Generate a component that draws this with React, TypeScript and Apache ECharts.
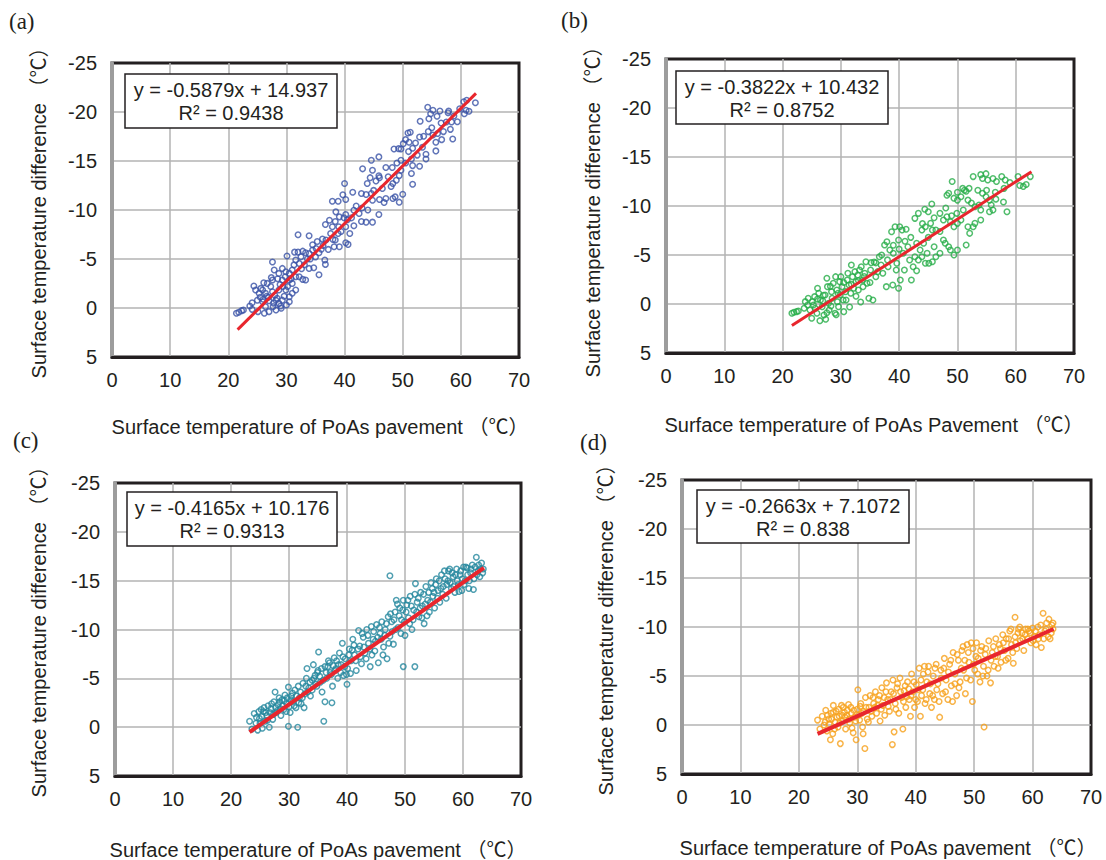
import React, { useEffect, useRef } from "react";
import * as echarts from "echarts";

const panelLabels = ["(a)", "(b)", "(c)", "(d)"];
const equations = ["y = -0.5879x + 14.937", "y = -0.3822x + 10.432", "y = -0.4165x + 10.176", "y = -0.2663x + 7.1072"];
const rSquared = ["R² = 0.9438", "R² = 0.8752", "R² = 0.9313", "R² = 0.838"];
const xNames = [
  "Surface temperature of PoAs pavement （℃）",
  "Surface temperature of PoAs Pavement （℃）",
  "Surface temperature of PoAs pavement （℃）",
  "Surface temperature of PoAs pavement （℃）",
];
const yName = "Surface temperature difference （℃）";
const pointColors = ["#3a52a6", "#26ad47", "#24879d", "#f6a01a"];

const trendA = [[21.6, 2.2], [62.6, -21.9]];
const trendB = [[21.6, 2.2], [62.7, -13.5]];
const trendC = [[23.2, 0.5], [63.6, -16.3]];
const trendD = [[23.2, 0.9], [63.6, -9.8]];

const pointsA = [
  [21.4, 0.54], [21.8, 0.44], [22.3, 0.27], [22.6, 0.2], [23.7, -0.2], [24.1, 0.14], [25.1, 0.37], [24.1, -0.54], [25.0, -0.8], [25.9, -0.64],
  [27.0, -0.75], [28.2, -0.8], [26.4, -0.14], [27.7, -0.14], [28.7, -0.47], [26.2, 0.54], [27.0, 0.37], [28.2, 0.2], [29.1, 0.03], [30.0, -0.3],
  [30.5, -0.64], [24.4, -2.24], [24.7, -1.83], [25.9, -1.83], [25.3, -1.5], [26.4, -1.5], [27.6, -1.66], [28.7, -1.83], [29.9, -1.83], [31.0, -1.5],
  [31.6, -1.83], [30.5, -1.15], [29.3, -0.8], [26.1, -2.58], [26.7, -2.51], [27.6, -2.85], [28.5, -2.99], [29.3, -2.85], [29.8, -3.19], [30.5, -2.85],
  [31.0, -2.51], [31.6, -3.19], [32.2, -3.19], [32.8, -2.92], [33.3, -2.85], [27.9, -3.87], [27.6, -4.69], [28.7, -3.53], [29.3, -4.04], [29.9, -3.7],
  [30.5, -3.53], [31.0, -3.87], [30.1, -5.3], [31.4, -5.7], [32.0, -5.7], [32.8, -5.8], [33.3, -5.64], [33.9, -5.57], [32.5, -5.23], [31.6, -4.89],
  [32.2, -4.55], [33.1, -4.41], [33.9, -4.04], [34.7, -4.1], [35.6, -3.4], [36.6, -4.9], [36.7, -4.45], [32.0, -7.47], [33.9, -7.37], [34.5, -6.45],
  [35.3, -6.79], [34.5, -5.91], [35.1, -6.08], [35.6, -5.64], [36.2, -7.03], [36.8, -6.93], [36.3, -6.38], [37.2, -5.98], [38.2, -6.25], [39.1, -6.25],
  [38.4, -6.93], [40.2, -6.65], [40.6, -6.49], [38.9, -7.6], [40.9, -7.6], [37.9, -8.29], [39.0, -8.29], [40.2, -8.29], [41.6, -8.39], [36.7, -8.52],
  [37.4, -8.96], [38.4, -8.83], [39.1, -9.3], [39.9, -9.2], [40.2, -9.54], [38.5, -9.81], [41.6, -9.98], [42.5, -9.64], [42.9, -8.83], [43.7, -8.76],
  [44.8, -8.76], [45.9, -9.54], [37.9, -10.9], [38.9, -10.9], [40.2, -11.07], [39.7, -11.55], [41.4, -11.82], [42.9, -11.68], [43.7, -11.58], [44.6, -11.68],
  [40.0, -12.7], [43.9, -12.7], [44.8, -11.0], [46.0, -11.07], [46.8, -10.76], [47.1, -11.17], [48.3, -11.17], [48.7, -11.34], [49.4, -10.8], [50.0, -11.6],
  [44.4, -13.3], [45.4, -12.97], [46.0, -13.3], [45.9, -13.5], [44.8, -14.06], [43.1, -14.2], [44.6, -15.08], [45.9, -15.42], [47.1, -14.33], [48.2, -14.33],
  [48.9, -13.04], [48.3, -12.7], [49.4, -13.51], [49.7, -14.06], [49.7, -15.08], [48.5, -16.23], [49.3, -16.26], [49.7, -16.23], [50.1, -16.77], [51.1, -16.91],
  [50.5, -17.18], [50.9, -17.86], [51.3, -17.93], [51.7, -16.3], [51.0, -15.96], [52.2, -16.84], [51.7, -14.53], [52.9, -14.47], [51.5, -13.72], [51.7, -12.63],
  [52.9, -17.45], [53.6, -17.52], [54.4, -18.0], [55.2, -17.66], [54.0, -15.69], [54.0, -15.21], [53.0, -19.05], [54.5, -19.32], [54.3, -20.48], [54.8, -19.83],
  [55.2, -20.17], [55.9, -19.56], [56.4, -20.1], [55.7, -16.91], [55.7, -16.03], [56.7, -17.18], [56.6, -18.88], [57.5, -18.98], [58.4, -18.98], [57.9, -20.1],
  [57.8, -19.93], [58.2, -18.23], [58.6, -17.25], [60.5, -21.05], [59.8, -20.34], [60.9, -20.17], [61.4, -20.07], [60.6, -19.83], [62.5, -20.95],
  [26.9, -1.1], [27.3, -2.2], [28.0, -1.3], [28.9, -2.4], [29.6, -1.2], [30.2, -2.2], [26.0, -0.9], [27.8, -0.5], [29.0, -0.2], [25.5, -1.1],
  [25.6, -2.0], [26.6, -1.2], [27.4, -3.1], [28.4, -1.0], [29.4, -2.2], [30.8, -3.0], [31.3, -4.4], [32.6, -4.0], [33.6, -5.0], [34.1, -5.0],
  [35.0, -5.2], [36.0, -6.0], [37.6, -7.6], [38.0, -7.0], [39.4, -7.8], [40.5, -9.0], [41.2, -9.2], [42.0, -10.4], [43.0, -10.2], [44.0, -10.0],
  [45.0, -12.0], [46.5, -12.2], [47.5, -13.4], [48.0, -12.4], [49.0, -14.8], [50.5, -14.8], [51.5, -15.2], [52.5, -15.6], [53.4, -16.4], [55.0, -18.4],
  [56.0, -17.8], [57.0, -18.0], [58.8, -19.6], [59.4, -19.0], [61.0, -21.2],
];

const pointsB = [
  [21.6, 0.95], [21.95, 0.85], [22.4, 0.78], [22.7, 0.71], [23.7, 0.44], [23.9, -0.24], [24.3, 0.1], [24.4, -0.58], [24.7, 0.61], [25.0, 1.46],
  [25.1, -0.24], [25.5, -0.75], [25.6, 0.44], [25.9, 0.95], [26.2, -1.09], [26.4, 1.7], [26.5, -0.41], [26.8, 0.27], [27.1, 1.12], [27.3, -0.92],
  [27.4, 1.56], [27.6, -2.62], [27.7, -1.77], [27.9, -0.07], [28.0, 0.61], [28.4, -1.26], [28.5, -0.58], [28.7, -2.11], [29.0, 0.95], [29.1, -2.79],
  [29.3, -1.43], [29.4, -0.24], [29.6, 0.27], [29.8, -2.28], [29.9, -0.92], [30.0, -2.79], [30.2, -1.77], [30.4, -0.41], [30.5, 0.78], [30.8, -1.26],
  [31.1, -2.45], [31.2, -3.13], [31.4, -1.94], [31.7, -1.09], [31.8, -3.98], [32.0, -2.79], [32.2, -1.6], [32.4, -3.3], [32.6, -2.28], [32.9, -2.96],
  [33.0, -1.43], [33.2, -3.47], [33.5, -3.81], [33.7, -2.45], [33.8, -1.77], [34.1, -3.13], [34.3, -4.32], [34.5, -2.11], [34.8, -0.58], [35.1, -3.47],
  [35.2, -4.22], [35.5, -0.41], [35.7, -4.29], [36.0, -2.79], [36.3, -3.3], [36.6, -4.83], [36.9, -3.98], [37.2, -3.13], [37.5, -6.02], [37.8, -1.77],
  [37.9, -6.36], [38.1, -3.81], [38.4, -5.51], [38.7, -7.38], [38.9, -1.94], [39.0, -5.17], [39.3, -7.89], [39.5, -3.47], [39.6, -4.15], [39.9, -6.53],
  [39.9, -1.6], [40.1, -7.89], [40.2, -2.45], [40.5, -7.55], [40.7, -5.17], [40.9, -3.47], [41.2, -7.62], [41.5, -5.85], [41.8, -4.49], [42.1, -2.45],
  [42.4, -3.81], [42.7, -8.74], [42.7, -4.83], [43.0, -3.4], [43.3, -9.25], [43.3, -4.49], [43.6, -5.51], [43.9, -7.55], [43.9, -4.83], [44.2, -6.19],
  [44.4, -9.66], [44.5, -7.89], [44.5, -4.15], [44.8, -5.17], [45.0, -9.42], [45.1, -4.15], [45.4, -8.23], [45.6, -10.2], [45.7, -7.55], [45.7, -4.32],
  [46.0, -5.85], [46.3, -7.55], [46.3, -4.83], [47.0, -9.25], [47.0, -5.17], [47.6, -8.57], [47.6, -6.53], [47.9, -6.19], [48.2, -8.91], [48.2, -11.1],
  [48.5, -11.3], [48.5, -5.85], [48.8, -8.4], [48.8, -5.51], [49.1, -12.5], [49.4, -10.8], [49.4, -7.89], [49.4, -5.0], [49.9, -9.25], [50.0, -10.6],
  [50.0, -8.23], [50.0, -5.51], [50.6, -10.95], [50.6, -8.57], [50.9, -11.8], [51.2, -11.6], [51.5, -11.5], [51.5, -6.02], [51.8, -10.6], [51.8, -7.89],
  [52.1, -7.21], [52.4, -10.3], [52.7, -13.0], [52.7, -7.89], [53.0, -9.93], [53.0, -8.23], [53.7, -10.1], [54.0, -13.2], [54.0, -9.59], [54.0, -8.57],
  [54.3, -12.8], [54.3, -11.3], [54.9, -13.3], [54.9, -10.95], [55.2, -12.65], [55.5, -10.6], [55.5, -9.42], [55.8, -10.1], [56.1, -12.8], [56.1, -9.59],
  [56.6, -10.7], [56.7, -12.5], [57.6, -13.0], [57.9, -10.4], [58.2, -12.65], [58.5, -9.42], [60.4, -13.0], [60.7, -12.1], [61.3, -12.0], [62.5, -13.0],
  [25.3, 0.1], [26.0, -0.5], [26.9, -0.3], [27.6, 0.9], [28.3, 0.2], [29.2, 1.1], [30.9, -0.4], [31.5, 0.3], [32.6, -0.8], [33.4, -0.2],
  [26.0, -1.6], [27.0, -0.9], [28.2, -1.8], [29.5, -1.1], [30.5, -2.2], [31.8, -2.0], [33.0, -2.4], [34.0, -2.8], [35.0, -2.2], [36.0, -4.2],
  [37.0, -5.0], [38.0, -4.5], [39.0, -6.0], [40.0, -5.6], [41.0, -6.4], [42.0, -6.8], [43.0, -6.2], [44.0, -8.2], [45.0, -6.8], [46.0, -8.8],
  [47.0, -7.4], [48.0, -9.8], [49.0, -9.0], [50.0, -11.4], [51.0, -9.6], [52.0, -11.8], [53.5, -11.6], [55.0, -11.6], [56.5, -11.4], [58.0, -11.8],
  [59.0, -12.4], [61.8, -12.2],
];

const pointsC = [
  [23.2, -0.6], [23.6, 0.2], [24.0, -1.4], [24.3, -0.4], [24.6, 0.3], [24.9, -0.9], [25.2, -1.8], [25.4, 0.1], [25.6, -1.6], [25.9, -0.6],
  [26.2, -1.2], [26.4, -2.2], [26.6, 0.0], [26.9, -1.9], [27.2, -0.8], [27.4, -2.6], [27.6, -3.6], [27.8, -1.5], [28.1, -2.3], [28.3, -3.0],
  [28.6, -1.2], [28.8, -2.8], [29.1, -1.8], [29.3, -3.3], [29.6, -2.4], [29.9, -4.1], [29.9, -0.1], [30.2, -1.5], [30.4, -3.2], [30.7, -2.6],
  [31.0, -3.8], [31.2, -2.0], [31.5, 0.0], [31.6, -4.2], [31.8, -3.0], [32.1, -2.4], [32.4, -4.5], [32.7, -3.4], [33.0, -5.0], [33.1, -6.0],
  [33.4, -4.0], [33.7, -3.2], [34.0, -4.8], [34.2, -6.4], [34.5, -5.3], [34.8, -4.2], [35.1, -7.7], [35.0, -5.8], [35.4, -4.6], [35.7, -3.6],
  [36.0, -0.6], [36.2, -2.6], [36.2, -6.2], [36.5, -5.0], [36.8, -6.8], [37.1, -5.6], [37.4, -2.5], [37.5, -4.2], [37.8, -7.1], [38.1, -6.0],
  [38.4, -5.0], [38.7, -7.6], [39.0, -6.4], [39.2, -8.6], [39.4, -5.3], [39.7, -7.0], [40.0, -4.4], [40.1, -6.0], [40.4, -8.0], [40.7, -6.8],
  [41.0, -9.0], [41.3, -7.4], [41.6, -5.8], [42.0, -9.9], [42.2, -8.3], [42.5, -6.5], [42.8, -9.2], [43.1, -7.6], [43.4, -10.0], [43.7, -8.6],
  [44.0, -6.2], [44.2, -10.3], [44.5, -9.0], [44.8, -7.8], [45.1, -10.5], [45.4, -6.6], [45.7, -9.6], [46.0, -10.8], [46.3, -8.2], [46.6, -10.0],
  [46.9, -7.0], [47.1, -11.3], [47.4, -15.5], [47.4, -9.3], [47.7, -10.8], [48.0, -8.5], [48.3, -11.8], [48.5, -13.0], [48.8, -10.2], [49.1, -12.2],
  [49.4, -11.0], [49.7, -6.2], [49.7, -13.0], [50.0, -9.4], [50.3, -12.5], [50.6, -11.2], [50.9, -13.4], [51.2, -10.0], [51.5, -12.0], [51.7, -6.2],
  [51.8, -14.7], [52.1, -12.8], [52.4, -11.3], [52.7, -13.8], [53.0, -12.4], [53.3, -10.6], [53.6, -14.4], [53.9, -13.0], [54.2, -11.8], [54.5, -14.8],
  [54.8, -13.4], [55.1, -12.2], [55.4, -15.2], [55.7, -14.0], [56.0, -12.8], [56.3, -15.6], [56.6, -14.4], [56.8, -16.0], [57.1, -13.2], [57.4, -15.0],
  [57.7, -16.2], [58.0, -14.2], [58.3, -15.4], [58.6, -13.8], [58.9, -16.2], [59.2, -14.6], [59.5, -15.6], [59.8, -14.0], [60.1, -16.4], [60.4, -15.0],
  [60.7, -16.3], [61.0, -14.2], [61.3, -15.8], [61.6, -16.6], [61.9, -15.2], [62.3, -17.4], [62.6, -16.0], [62.9, -15.4], [63.2, -16.8], [63.5, -16.2],
  [24.4, -1.0], [24.8, -1.6], [25.0, -0.4], [25.3, -1.1], [25.7, -2.0], [26.0, -1.5], [26.3, -0.7], [26.7, -1.5], [27.0, -2.4], [27.3, -1.3],
  [27.7, -2.0], [28.0, -1.7], [28.4, -2.6], [28.5, -1.9], [28.9, -2.2], [29.2, -2.7], [29.5, -1.6], [29.7, -3.0], [30.0, -2.1], [30.3, -2.8],
  [30.6, -3.5], [30.9, -2.2], [31.3, -3.2], [31.7, -2.5], [32.0, -3.6], [32.3, -3.0], [32.6, -2.0], [32.9, -4.2], [33.2, -3.6], [33.6, -4.6],
  [34.0, -3.8], [34.3, -5.0], [34.6, -4.4], [34.9, -5.6], [35.3, -5.2], [35.6, -6.0], [35.9, -4.8], [36.4, -5.6], [36.7, -6.2], [37.0, -6.6],
  [37.3, -5.4], [37.6, -6.3], [37.9, -5.8], [38.2, -6.8], [38.5, -6.4], [38.9, -5.6], [39.3, -7.2], [39.6, -6.2], [39.9, -5.4], [40.3, -7.4],
  [40.6, -5.5], [40.9, -7.9], [41.2, -8.4], [41.5, -6.8], [41.9, -8.0], [42.3, -7.2], [42.6, -9.6], [42.9, -8.2], [43.3, -7.0], [43.6, -9.4],
  [43.9, -8.0], [44.3, -7.4], [44.6, -9.8], [44.9, -8.8], [45.3, -9.2], [45.6, -10.2], [45.9, -9.0], [46.2, -7.4], [46.5, -9.4], [46.8, -10.6],
  [47.2, -8.6], [47.5, -11.6], [47.8, -9.8], [48.1, -11.0], [48.4, -10.0], [48.7, -12.6], [49.0, -11.4], [49.3, -9.6], [49.6, -12.0], [49.9, -10.8],
  [50.2, -11.8], [50.5, -13.0], [50.8, -10.6], [51.1, -12.4], [51.4, -11.0], [51.7, -13.6], [52.0, -11.8], [52.3, -13.2], [52.6, -12.2], [52.9, -11.2],
  [53.2, -13.6], [53.5, -12.6], [53.8, -11.4], [54.1, -13.8], [54.4, -12.8], [54.7, -14.2], [55.0, -13.8], [55.3, -14.6], [55.6, -13.2], [55.9, -15.0],
  [56.2, -14.2], [56.5, -13.6], [56.9, -15.2], [57.2, -14.6], [57.5, -16.0], [57.8, -14.8], [58.1, -15.8], [58.4, -14.4], [58.7, -15.6], [59.0, -15.0],
  [59.3, -13.9], [59.6, -16.0], [59.9, -15.2], [60.2, -14.6], [60.5, -16.4], [60.8, -15.6], [61.1, -15.0], [61.4, -16.2], [61.8, -14.1], [62.1, -16.4],
  [62.4, -15.6], [62.7, -16.6], [63.0, -16.2], [63.4, -15.8],
];

const pointsD = [
  [23.2, -0.5], [23.6, 0.4], [24.0, -0.9], [24.3, 0.0], [24.6, -1.5], [24.8, 0.6], [25.1, -0.6], [25.4, 1.5], [25.5, -1.2], [25.8, 0.9],
  [25.9, -2.0], [26.2, -0.3], [26.4, -1.4], [26.7, 0.2], [26.9, -0.9], [27.1, 1.9], [27.3, -2.0], [27.5, -0.4], [27.8, -1.3], [28.0, 0.4],
  [28.2, -1.0], [28.5, -2.1], [28.7, -0.2], [29.0, -1.2], [29.3, 0.8], [29.5, -0.8], [29.8, 1.5], [30.0, -1.6], [30.1, -3.6], [30.4, -0.5],
  [30.6, -2.2], [30.9, 0.2], [31.1, -1.4], [31.3, 2.4], [31.4, -2.8], [31.7, -0.6], [32.0, -1.8], [32.2, -3.0], [32.5, -0.9], [32.8, -2.2],
  [33.1, -3.4], [33.3, -1.2], [33.6, -2.6], [33.9, -0.4], [34.2, -3.8], [34.4, -2.0], [34.7, -1.0], [35.0, -4.3], [35.2, -2.6], [35.5, -1.4],
  [35.8, -3.4], [36.0, 2.0], [36.1, -4.6], [36.3, 0.7], [36.5, -2.2], [36.8, -3.8], [37.1, -1.2], [37.3, -4.8], [37.6, -2.8], [37.8, 0.4],
  [38.0, -3.5], [38.3, -1.8], [38.6, -4.4], [38.9, -2.6], [39.1, -0.9], [39.3, -5.2], [39.5, -3.4], [39.8, -1.8], [40.1, -4.1], [40.3, -2.4],
  [40.6, -5.8], [40.8, -0.9], [41.0, -3.0], [41.3, -5.2], [41.6, -2.2], [41.9, -4.4], [42.2, -6.0], [42.4, -3.2], [42.7, -1.8], [43.0, -5.0],
  [43.2, -2.6], [43.5, -6.2], [43.8, -4.2], [44.1, -0.8], [44.3, -5.6], [44.6, -3.2], [44.9, -6.8], [45.2, -4.6], [45.5, -2.6], [45.8, -6.2],
  [46.1, -4.0], [46.4, -7.4], [46.7, -5.2], [47.0, -3.0], [47.3, -6.6], [47.6, -4.4], [47.9, -7.6], [48.2, -5.6], [48.5, -3.2], [48.8, -8.2],
  [49.1, -6.4], [49.4, -4.6], [49.7, -2.4], [49.8, -7.8], [50.1, -5.6], [50.4, -8.4], [50.7, -6.8], [51.0, -4.4], [51.3, -8.0], [51.6, -6.0],
  [51.7, 0.2], [51.9, -7.2], [52.2, -5.0], [52.5, -8.6], [52.8, -4.3], [53.1, -7.4], [53.4, -6.0], [53.7, -8.8], [54.0, -7.0], [54.3, -8.2],
  [54.6, -6.4], [54.9, -9.2], [55.2, -7.6], [55.5, -8.8], [55.8, -6.8], [56.1, -9.6], [56.4, -8.2], [56.7, -6.3], [57.0, -11.0], [57.0, -9.0],
  [57.3, -7.8], [57.6, -9.8], [57.9, -8.6], [58.2, -9.4], [58.5, -7.6], [58.8, -9.8], [59.1, -8.8], [59.4, -9.6], [59.7, -8.4], [60.0, -9.9],
  [60.3, -9.0], [60.6, -8.2], [60.9, -10.0], [61.2, -9.2], [61.5, -7.9], [61.8, -11.4], [62.1, -9.6], [62.4, -10.4], [62.7, -9.0], [63.0, -8.8],
  [63.3, -10.2], [63.5, -9.8],
  [24.5, -0.3], [24.9, -1.0], [25.2, -0.1], [25.6, -0.6], [25.9, -1.3], [26.1, 0.4], [26.5, -0.8], [26.8, -1.6], [27.0, -0.2], [27.4, -1.0],
  [27.6, -1.8], [27.9, -0.8], [28.3, -1.5], [28.6, -0.6], [28.9, -1.8], [29.1, 0.3], [29.4, -1.5], [29.7, -0.4], [30.2, -1.0], [30.5, -1.9],
  [30.8, -1.2], [31.0, 0.9], [31.5, -1.8], [31.9, -0.3], [32.3, -1.4], [32.7, -2.8], [33.0, -1.8], [33.5, -2.0], [33.8, -3.0], [34.1, -1.6],
  [34.6, -2.8], [34.9, -3.4], [35.3, -1.9], [35.7, -2.6], [36.2, -3.2], [36.6, -1.6], [36.9, -4.2], [37.4, -3.4], [37.9, -2.4], [38.2, -4.0],
  [38.5, -2.9], [38.8, -3.7], [39.2, -3.0], [39.7, -4.4], [40.0, -2.6], [40.4, -3.6], [40.9, -4.6], [41.2, -3.6], [41.5, -6.0], [41.8, -2.6],
  [42.1, -5.4], [42.5, -4.2], [42.9, -3.0], [43.3, -5.8], [43.6, -3.6], [44.0, -2.4], [44.4, -4.8], [44.8, -5.8], [45.1, -3.4], [45.6, -5.4],
  [46.0, -6.6], [46.3, -2.4], [46.7, -4.2], [47.1, -7.2], [47.4, -3.8], [47.8, -5.8], [48.1, -8.0], [48.4, -6.6], [48.7, -4.8], [49.0, -7.4],
  [49.5, -8.4], [49.9, -6.2], [50.3, -7.0], [50.6, -5.2], [51.1, -7.6], [51.5, -5.0], [52.0, -7.8], [52.4, -5.6], [52.9, -6.6], [53.3, -8.0],
  [53.6, -7.0], [54.1, -5.8], [54.5, -7.8], [55.0, -8.4], [55.4, -6.6], [55.9, -8.8], [56.3, -9.8], [56.6, -7.4], [57.1, -8.4], [57.5, -9.4],
  [57.8, -10.0], [58.3, -8.8], [58.7, -9.2], [59.2, -9.8], [59.6, -9.4], [60.1, -8.6], [60.5, -9.6], [61.0, -8.8], [61.4, -10.2], [61.9, -8.8],
  [62.3, -9.8], [62.8, -10.8], [63.2, -9.4], [63.5, -10.4],
];

const allPoints = [pointsA, pointsB, pointsC, pointsD];
const allTrends = [trendA, trendB, trendC, trendD];

// layout (pixels)
const grids = [
  { left: 112, top: 63, width: 407, height: 294 },
  { left: 666, top: 59, width: 408, height: 294 },
  { left: 115, top: 483, width: 406, height: 293 },
  { left: 682, top: 480, width: 409, height: 294 },
];
const labelPos = [[9, 21], [561, 20], [13, 440], [580, 442]];
const yNamePos = [[39, 208], [593, 207], [39, 627], [606, 625]];
const xNamePos = [[320, 427], [874, 425], [318, 850], [888, 848]];
const boxes = [
  { x: 125, y: 74, w: 212, h: 54 },
  { x: 676, y: 71, w: 212, h: 53 },
  { x: 127, y: 492, w: 210, h: 54 },
  { x: 697, y: 490, w: 212, h: 53 },
];
const lineWidths = [3, 3, 4, 4];

const FONT = "'Liberation Sans', Arial, 'Noto Sans CJK JP', sans-serif";
const TXT = "#231f20";

export default function App() {
  const ref = useRef<HTMLDivElement>(null);
  useEffect(() => {
    if (!ref.current) return;
    const chart = echarts.init(ref.current, undefined, { renderer: "svg" });
    const graphic: any[] = [];
    for (let i = 0; i < 4; i++) {
      graphic.push({
        type: "text", x: labelPos[i][0], y: labelPos[i][1], z: 100,
        style: { text: panelLabels[i], font: "23px 'Liberation Serif', 'Times New Roman', serif", fill: TXT, textAlign: "left", textVerticalAlign: "middle", align: "left", verticalAlign: "middle" },
      });
      graphic.push({
        type: "text", x: yNamePos[i][0], y: yNamePos[i][1], rotation: Math.PI / 2, z: 100,
        style: { text: yName, font: "20px " + FONT, fill: TXT, textAlign: "center", textVerticalAlign: "middle", align: "center", verticalAlign: "middle" },
      });
      graphic.push({
        type: "text", x: xNamePos[i][0], y: xNamePos[i][1], z: 100,
        style: { text: xNames[i], font: "20px " + FONT, fill: TXT, textAlign: "center", textVerticalAlign: "middle", align: "center", verticalAlign: "middle" },
      });
      const b = boxes[i];
      graphic.push({
        type: "rect", z: 100,
        shape: { x: b.x, y: b.y, width: b.w, height: b.h },
        style: { fill: "#ffffff", stroke: TXT, lineWidth: 1.5 },
      });
      graphic.push({
        type: "text", x: b.x + b.w / 2, y: b.y + b.h / 2 + 0.5, z: 101,
        style: { text: equations[i] + "\n" + rSquared[i], font: "20px " + FONT, lineHeight: 23, fill: TXT, textAlign: "center", textVerticalAlign: "middle", align: "center", verticalAlign: "middle" },
      });
    }
    const option: any = {
      animation: false,
      backgroundColor: "#ffffff",
      grid: grids.map((g) => ({ ...g, show: true, borderColor: TXT, borderWidth: 3, backgroundColor: "transparent", containLabel: false })),
      xAxis: grids.map((_, i) => ({
        type: "value", gridIndex: i, min: 0, max: 70, interval: 10,
        axisLine: { show: true, onZero: false, lineStyle: { color: TXT, width: 3 } },
        axisTick: { show: false },
        axisLabel: { color: TXT, fontSize: 20, fontFamily: FONT, margin: 13 },
        splitLine: { show: true, showMinLine: false, showMaxLine: false, lineStyle: { color: "#b3b3b3", width: 1.5 } },
      })),
      yAxis: grids.map((_, i) => ({
        type: "value", gridIndex: i, min: -25, max: 5, interval: 5, inverse: true,
        axisLine: { show: true, onZero: false, lineStyle: { color: "#9d9d9d", width: 4 } },
        axisTick: { show: false },
        axisLabel: { color: TXT, fontSize: 20, fontFamily: FONT, margin: 15 },
        splitLine: { show: true, showMinLine: false, showMaxLine: false, lineStyle: { color: "#b3b3b3", width: 1.5 } },
      })),
      series: [
        ...allPoints.map((pts, i) => ({
          type: "scatter", xAxisIndex: i, yAxisIndex: i, data: pts, symbol: "circle", symbolSize: 5.5,
          itemStyle: { color: "rgba(255,255,255,0)", borderColor: pointColors[i], borderWidth: 1.5 },
          z: 2,
        })),
        ...allTrends.map((t, i) => ({
          type: "line", xAxisIndex: i, yAxisIndex: i, data: t, showSymbol: false, symbol: "none",
          lineStyle: { color: "#e8262d", width: lineWidths[i] }, z: 3,
        })),
      ],
      graphic,
    };
    chart.setOption(option);
    return () => chart.dispose();
  }, []);
  return <div ref={ref} style={{ position: "fixed", left: 0, top: 0, width: 1106, height: 860, background: "#fff" }} />;
}
